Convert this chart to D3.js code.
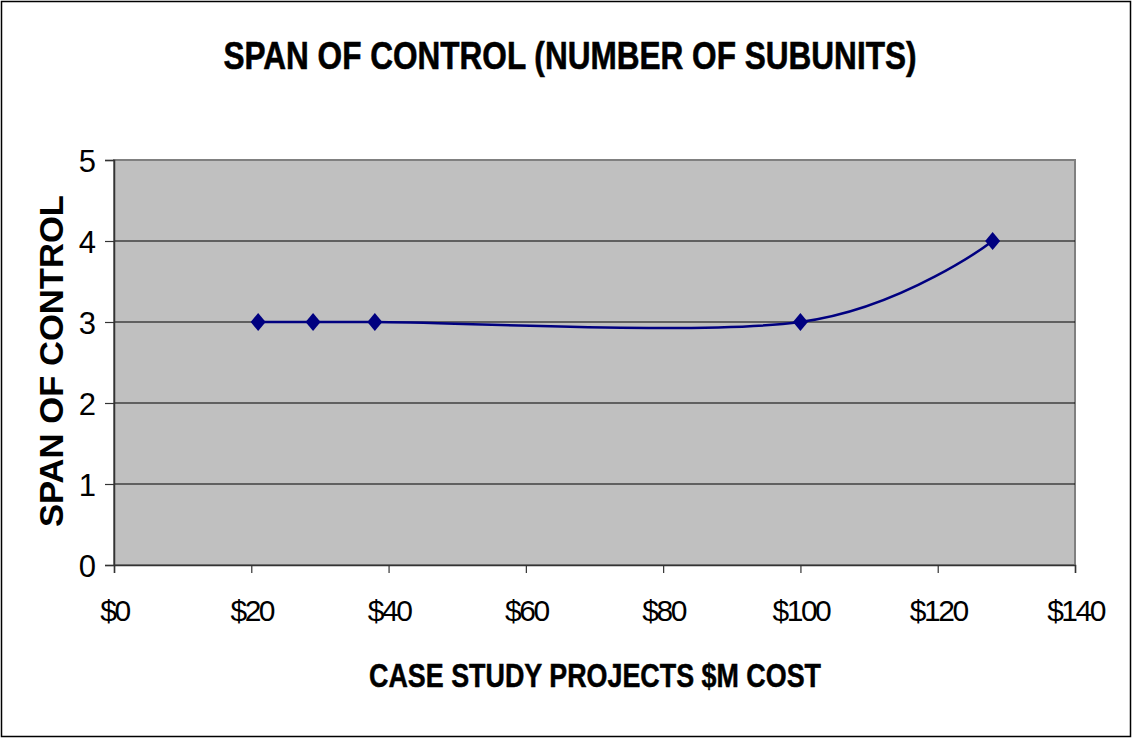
<!DOCTYPE html>
<html><head><meta charset="utf-8">
<script src="https://cdn.jsdelivr.net/npm/d3@7"></script>
<style>body{margin:0;background:#fff}svg{display:block}text{font-family:"Liberation Sans",Arial,sans-serif}</style>
</head><body>
<script>
const costs = [21, 29, 38, 100, 128];
const span = [3, 3, 3, 3, 4];
const xTicks = [0, 20, 40, 60, 80, 100, 120, 140];
const yTicks = [0, 1, 2, 3, 4, 5];
const title = "SPAN OF CONTROL (NUMBER OF SUBUNITS)";
const xTitle = "CASE STUDY PROJECTS $M COST";
const yTitle = "SPAN OF CONTROL";

const W = 1133, H = 740;
const svg = d3.select("body").append("svg").attr("width", W).attr("height", H);
svg.append("rect").attr("x", 1.5).attr("y", 1.5).attr("width", W - 4).attr("height", H - 5)
  .attr("fill", "#fff").attr("stroke", "#000").attr("stroke-width", 1.5);

const m = {l: 114, r: 1075, t: 160, b: 565};
const x = d3.scaleLinear().domain([0, 140]).range([m.l, m.r]);
const y = d3.scaleLinear().domain([0, 5]).range([m.b, m.t]);

svg.append("rect").attr("x", m.l).attr("y", m.t).attr("width", m.r - m.l).attr("height", m.b - m.t)
  .attr("fill", "#c0c0c0").attr("stroke", "#808080").attr("stroke-width", 2);

// gridlines
svg.append("g").selectAll("line").data(yTicks.filter(d => d > 0 && d < 5)).join("line")
  .attr("x1", m.l).attr("x2", m.r).attr("y1", d => y(d)).attr("y2", d => y(d))
  .attr("stroke", "#000").attr("stroke-width", 1);

// axes
const xAxis = svg.append("g").attr("transform", `translate(0,${m.b})`)
  .call(d3.axisBottom(x).tickValues(xTicks).tickFormat(d => "$" + d).tickSize(8).tickPadding(27));
const yAxis = svg.append("g").attr("transform", `translate(${m.l},0)`)
  .call(d3.axisLeft(y).tickValues(yTicks).tickFormat(d3.format("d")).tickSize(9).tickPadding(9));
[xAxis, yAxis].forEach(g => {
  g.select(".domain").attr("stroke", "#333").attr("stroke-width", 1.5);
  g.selectAll(".tick line").attr("stroke", "#333").attr("stroke-width", 1.2);
  g.selectAll(".tick text").attr("fill", "#000").style("font-size", "30px");
});
xAxis.selectAll(".tick text").attr("letter-spacing", "-2.5px");
yAxis.selectAll(".tick text").style("font-size", "31px").attr("dy", "0.36em");

// line
const line = d3.line().x((d, i) => x(costs[i])).y(d => y(d)).curve(d3.curveCardinal.tension(0));
svg.append("path").datum(span).attr("d", line).attr("fill", "none")
  .attr("stroke", "#000080").attr("stroke-width", 2.5);

// markers
svg.append("g").selectAll("path").data(span).join("path")
  .attr("transform", (d, i) => `translate(${x(costs[i])},${y(d)})`)
  .attr("d", "M0,-9L7.5,0L0,9L-7.5,0Z").attr("fill", "#000080");

// titles
svg.append("text").attr("x", 570).attr("y", 69).attr("text-anchor", "middle")
  .attr("font-weight", "bold").style("font-size", "38px")
  .attr("stroke", "#000").attr("stroke-width", 0.6)
  .attr("textLength", 693).attr("lengthAdjust", "spacingAndGlyphs").text(title);
svg.append("text").attr("x", 595).attr("y", 687).attr("text-anchor", "middle")
  .attr("font-weight", "bold").style("font-size", "34px")
  .attr("stroke", "#000").attr("stroke-width", 0.5)
  .attr("textLength", 452).attr("lengthAdjust", "spacingAndGlyphs").text(xTitle);
svg.append("text").attr("transform", "translate(63,361) rotate(-90)").attr("text-anchor", "middle")
  .attr("font-weight", "bold").style("font-size", "34px")
  .attr("textLength", 332).attr("lengthAdjust", "spacingAndGlyphs").text(yTitle);
</script>
</body></html>
